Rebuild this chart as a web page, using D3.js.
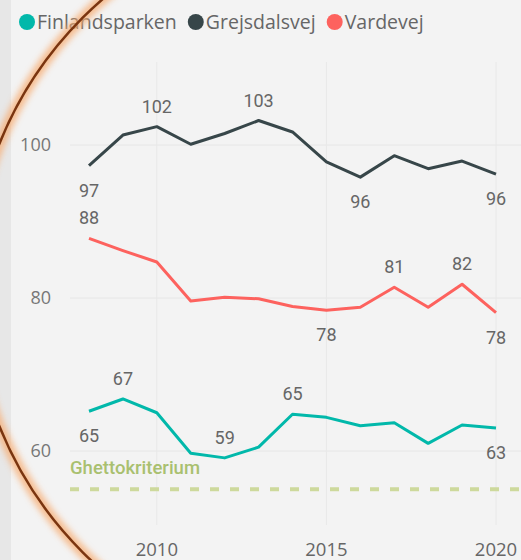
<!DOCTYPE html>
<html>
<head>
<meta charset="utf-8">
<script src="https://cdn.jsdelivr.net/npm/d3@7"></script>
<style>
  html, body { margin: 0; padding: 0; background: #f3f3f3; }
  svg { display: block; }
</style>
</head>
<body>
<svg id="chart" width="521" height="560"></svg>
<script>
// data
const years = [2008, 2009, 2010, 2011, 2012, 2013, 2014, 2015, 2016, 2017, 2018, 2019, 2020];
const finlandsparken = [65.2, 66.8, 65.0, 59.7, 59.1, 60.5, 64.8, 64.4, 63.3, 63.7, 61.0, 63.4, 63.0];
const grejsdalsvej = [97.3, 101.3, 102.4, 100.1, 101.5, 103.2, 101.7, 97.8, 95.8, 98.6, 96.9, 97.9, 96.2];
const vardevej = [87.8, 86.2, 84.7, 79.6, 80.1, 79.9, 78.9, 78.4, 78.8, 81.4, 78.8, 81.8, 78.1];
const seriesNames = ['Finlandsparken', 'Grejsdalsvej', 'Vardevej'];
const yTicks = [60, 80, 100];
const xTicks = [2010, 2015, 2020];
const ghettoLimit = 55;
const ghettoLabel = 'Ghettokriterium';

// which points carry a data label
const labelled = [
  ['Grejsdalsvej', 2008, 'below'], ['Grejsdalsvej', 2010, 'above'], ['Grejsdalsvej', 2013, 'above'],
  ['Grejsdalsvej', 2016, 'below'], ['Grejsdalsvej', 2020, 'below'],
  ['Vardevej', 2008, 'above'], ['Vardevej', 2015, 'below'], ['Vardevej', 2017, 'above'],
  ['Vardevej', 2019, 'above'], ['Vardevej', 2020, 'below'],
  ['Finlandsparken', 2008, 'below'], ['Finlandsparken', 2009, 'above'], ['Finlandsparken', 2012, 'above'],
  ['Finlandsparken', 2014, 'above'], ['Finlandsparken', 2020, 'below']
];

const values = { Finlandsparken: finlandsparken, Grejsdalsvej: grejsdalsvej, Vardevej: vardevej };
const color = d3.scaleOrdinal().domain(seriesNames).range(['#01B8AA', '#374649', '#FD625E']);

const svg = d3.select('#chart');
const W = 521, H = 560;
const numFont = 'Roboto, "DejaVu Sans", sans-serif';
const uiFont = '"Open Sans", "Noto Sans", sans-serif';

const x = d3.scaleLinear().domain([2008, 2020]).range([89, 496]);
const y = d3.scaleLinear().domain([60, 100]).range([451, 145]);

// left edge strip
svg.append('rect').attr('x', 0).attr('y', 0).attr('width', 11).attr('height', H).attr('fill', '#e7e7e7');

// gridlines
svg.append('g').selectAll('line').data(yTicks).join('line')
  .attr('x1', 70).attr('x2', W)
  .attr('y1', d => y(d)).attr('y2', d => y(d))
  .attr('stroke', '#e6e6e6').attr('stroke-width', 1);
svg.append('g').selectAll('line').data(xTicks).join('line')
  .attr('x1', d => x(d)).attr('x2', d => x(d))
  .attr('y1', 62).attr('y2', 525)
  .attr('stroke', '#e8e8e8').attr('stroke-width', 1);

// y axis labels
svg.append('g').selectAll('text').data(yTicks).join('text')
  .attr('x', 51).attr('y', d => y(d) + 6)
  .attr('text-anchor', 'end')
  .attr('font-family', uiFont).attr('font-size', 18).attr('fill', '#777')
  .text(d => d);

// x axis labels
svg.append('g').selectAll('text').data(xTicks).join('text')
  .attr('x', d => x(d)).attr('y', 556)
  .attr('text-anchor', 'middle')
  .attr('font-family', uiFont).attr('font-size', 18.5).attr('fill', '#666')
  .text(d => d);

// ghetto criterion line
svg.append('line')
  .attr('x1', 70).attr('x2', W)
  .attr('y1', y(ghettoLimit)).attr('y2', y(ghettoLimit))
  .attr('stroke', '#cdd99c').attr('stroke-width', 4)
  .attr('stroke-dasharray', '9 11');
svg.append('text')
  .attr('x', 70).attr('y', y(ghettoLimit) - 15)
  .attr('font-family', numFont).attr('font-size', 18.5).attr('font-weight', 500)
  .attr('fill', '#a9c06f')
  .text(ghettoLabel);

// lines
const line = d3.line().x((d, i) => x(years[i])).y(d => y(d));
svg.append('g').selectAll('path').data(seriesNames).join('path')
  .attr('d', s => line(values[s]))
  .attr('fill', 'none')
  .attr('stroke', s => color(s))
  .attr('stroke-width', 3)
  .attr('stroke-linejoin', 'round');

// data labels
svg.append('g').selectAll('text').data(labelled).join('text')
  .attr('x', d => x(d[1]))
  .attr('y', d => {
    const v = values[d[0]][years.indexOf(d[1])];
    return d[2] === 'above' ? y(v) - 14 : y(v) + 31;
  })
  .attr('text-anchor', 'middle')
  .attr('font-family', numFont).attr('font-size', 18).attr('fill', '#666')
  .text(d => d3.format('.0f')(values[d[0]][years.indexOf(d[1])]));

// legend
const legend = svg.append('g').attr('transform', 'translate(27,22)');
let lx = 0;
seriesNames.forEach(s => {
  const g = legend.append('g').attr('transform', `translate(${lx},0)`);
  g.append('circle').attr('r', 8).attr('fill', color(s));
  const t = g.append('text').attr('x', 10).attr('y', 7)
    .attr('font-family', uiFont).attr('font-size', 19.5).attr('fill', '#666')
    .text(s);
  lx += 10 + t.node().getComputedTextLength() + 19;
});

// hand drawn highlight circle over the chart
const defs = svg.append('defs');
defs.append('filter').attr('id', 'glow').append('feGaussianBlur').attr('stdDeviation', 3);
svg.append('circle')
  .attr('cx', 350).attr('cy', 285).attr('r', 378)
  .attr('fill', 'none').attr('stroke', '#f7ab70').attr('stroke-width', 11)
  .attr('opacity', 0.75).attr('filter', 'url(#glow)');
svg.append('circle')
  .attr('cx', 350).attr('cy', 285).attr('r', 378)
  .attr('fill', 'none').attr('stroke', '#7a3510').attr('stroke-width', 2.5);
</script>
</body>
</html>
